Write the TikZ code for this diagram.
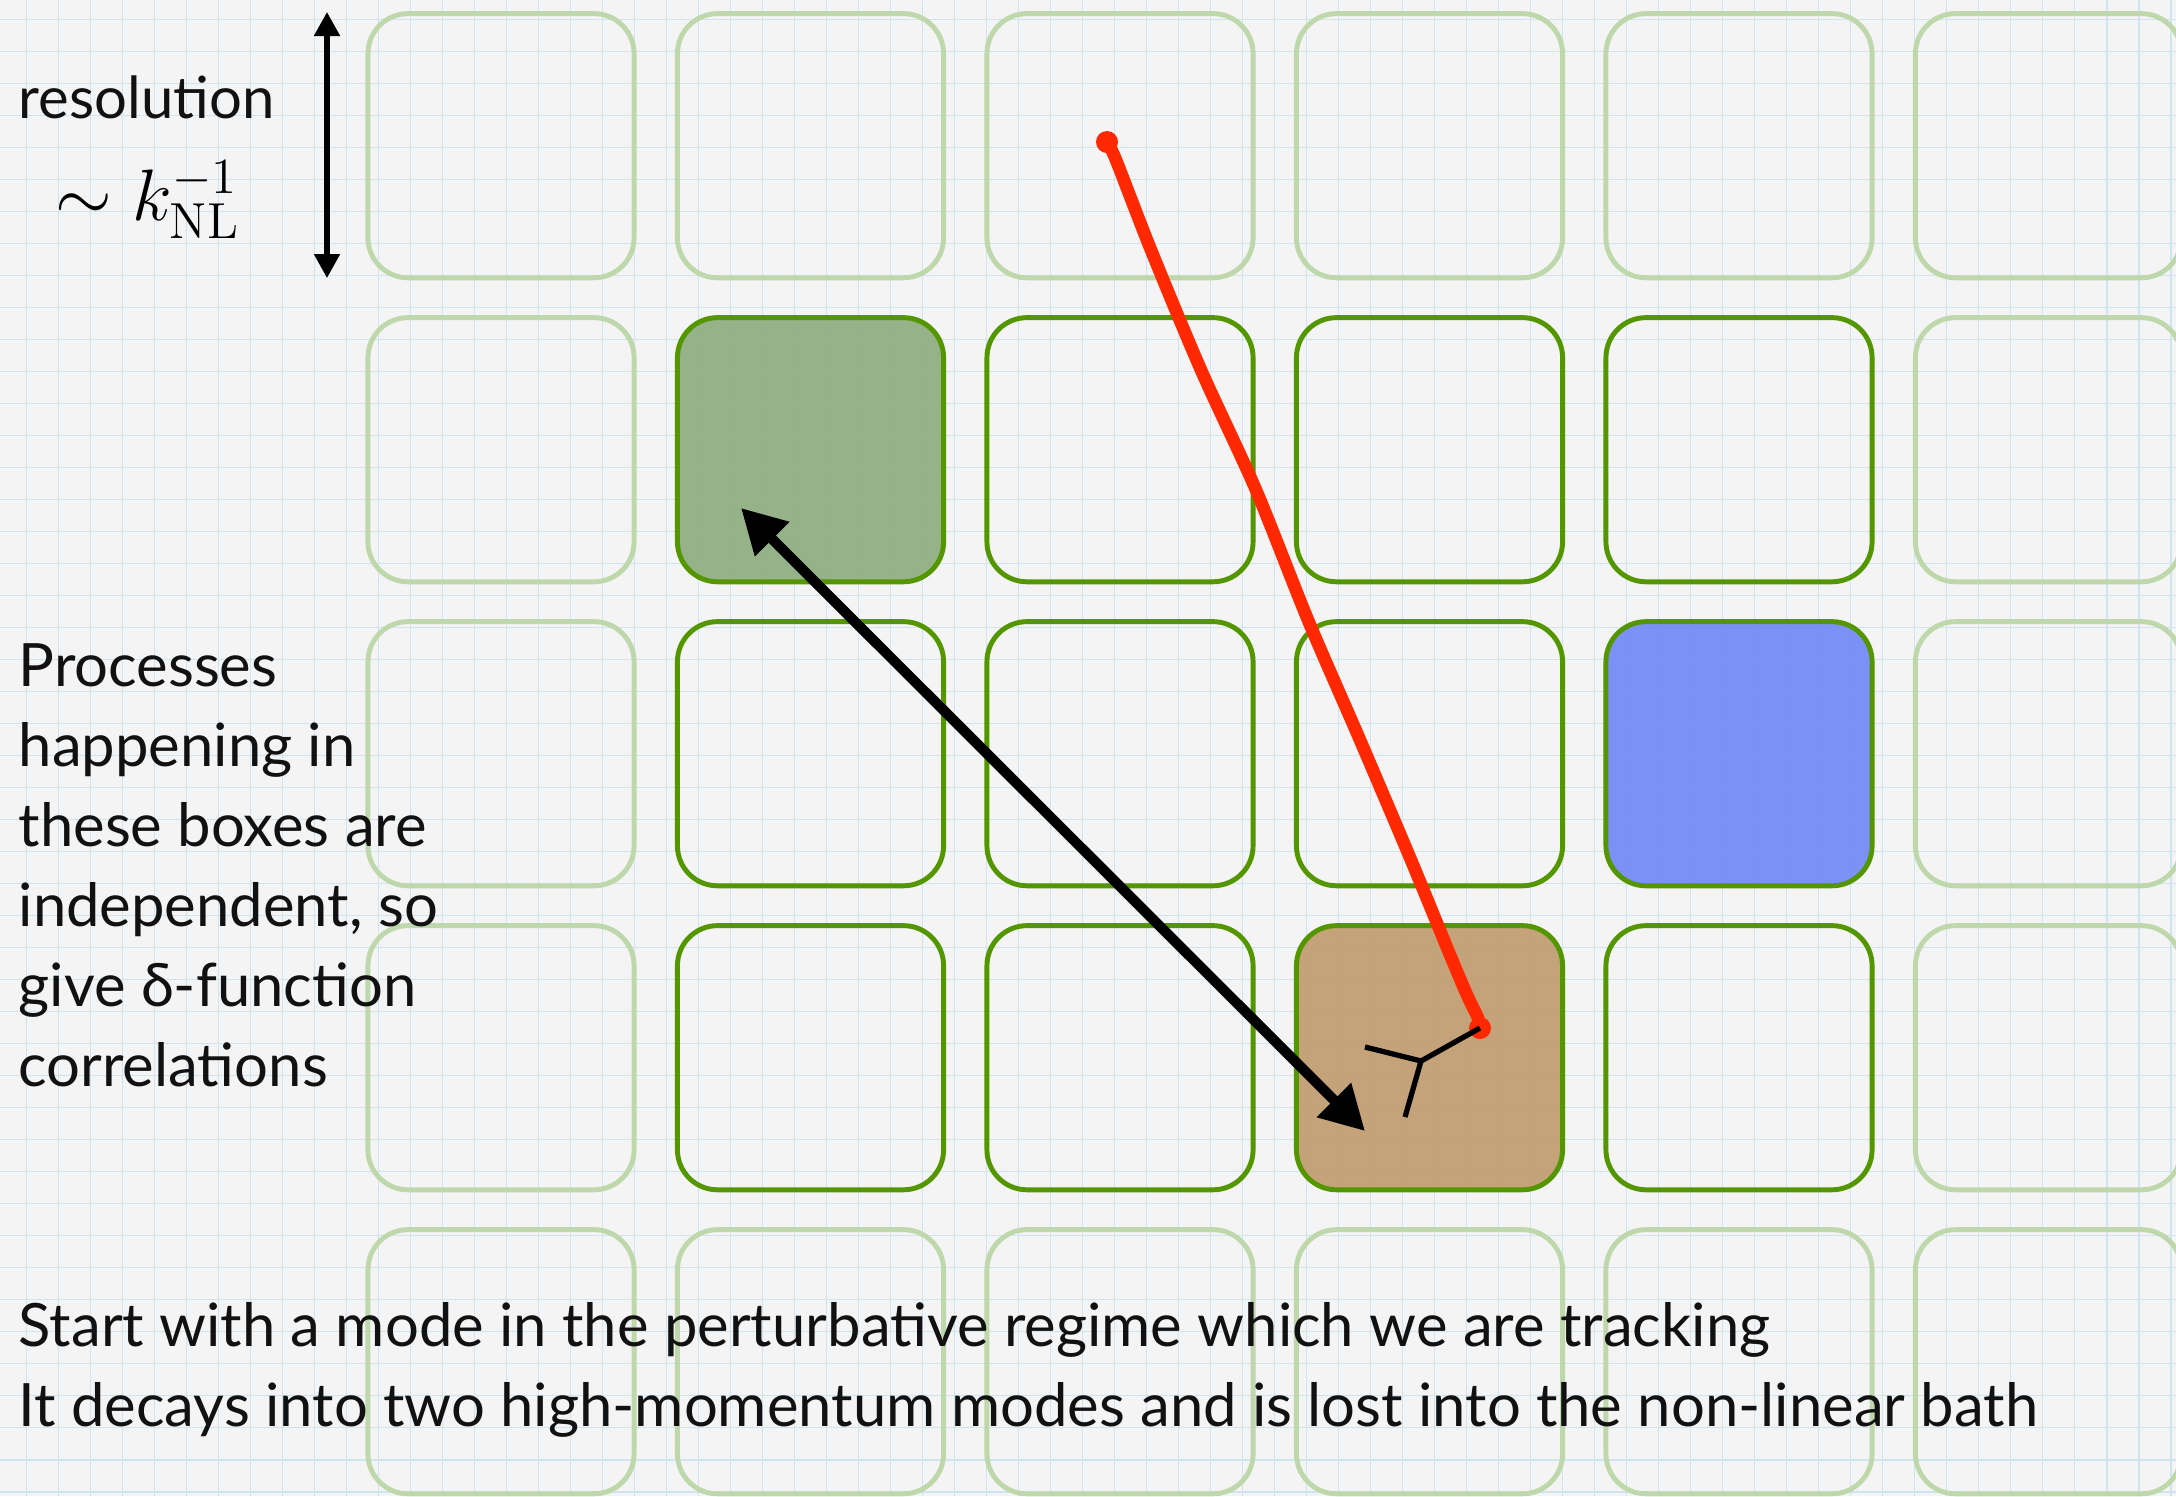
\documentclass[tikz,border=0pt]{standalone}
\usepackage[no-math]{fontspec}
\setmainfont{Lato}
\usetikzlibrary{arrows.meta}

\definecolor{bgc}{RGB}{244,244,244}
\definecolor{gridc}{RGB}{206,228,238}
\definecolor{faintg}{RGB}{190,216,172}
\definecolor{darkg}{RGB}{84,150,0}
\definecolor{fillg}{RGB}{146,175,132}
\definecolor{fillb}{RGB}{118,140,246}
\definecolor{fillbr}{RGB}{194,158,116}
\definecolor{redl}{RGB}{255,40,0}
\definecolor{ink}{RGB}{17,17,17}

\begin{document}
\begin{tikzpicture}[x=0.01cm,y=-0.01cm,
  cell/.style={draw, rectangle, rounded corners=0.4cm, minimum width=2.66cm,
    minimum height=2.64cm, inner sep=0pt, line width=1.4pt},
  cellfaint/.style={cell, draw=faintg},
  cellbold/.style={cell, draw=darkg, fill opacity=0.95},
  txt/.style={anchor=base west, inner sep=0pt, text=ink,
    font=\fontsize{17}{20}\selectfont},
  gridline/.style={draw=gridc, line width=0.55pt},
  redstroke/.style={draw=redl, line width=3.6pt, line cap=round, line join=round},
  blackarrow/.style={draw=black, line width=2.9pt,
    {Triangle[width=0.46cm,length=0.44cm]}-{Triangle[width=0.46cm,length=0.44cm]}},
  resarrow/.style={draw=black, line width=1.45pt,
    {Triangle[width=0.25cm,length=0.24cm]}-{Triangle[width=0.25cm,length=0.24cm]}},
  vertex/.style={draw=black, line width=1.5pt},
]
\useasboundingbox (0,0) rectangle (2176,1496);
\clip (0,0) rectangle (2176,1496);
\fill[bgc] (0,0) rectangle (2176,1496);
\foreach \i in {0,...,67} \draw[gridline] ({26.5+32*\i},0) -- ({26.5+32*\i},1496);
\foreach \j in {0,...,46} \draw[gridline] (0,{19.5+32*\j}) -- (2176,{19.5+32*\j});

% faint outer cells
\foreach \r in {0,4}{\foreach \c in {0,...,5}{
  \node[cellfaint] (b\r\c) at ({501+309.5*\c},{145.7+304*\r}) {};
}}
\foreach \r in {1,2,3}{\foreach \c in {0,5}{
  \node[cellfaint] (b\r\c) at ({501+309.5*\c},{145.7+304*\r}) {};
}}
% inner cells
\foreach \r/\c/\f in {1/1/fillg,1/2/none,1/3/none,1/4/none,
                      2/1/none,2/2/none,2/3/none,2/4/fillb,
                      3/1/none,3/2/none,3/3/fillbr,3/4/none}{
  \node[cellbold, fill=\f] (b\r\c) at ({501+309.5*\c},{145.7+304*\r}) {};
}

% resolution arrow
\coordinate (rt) at (327,12);
\coordinate (rb) at (327,278);
\draw[resarrow] (rt) -- (rb);
\node[anchor=base west, inner sep=0pt, text=ink, font=\fontsize{16.5}{20}\selectfont] (res) at (18,118) {resolution};
\node[anchor=base west, inner sep=0pt, font=\fontsize{20}{24}\selectfont] (knl) at (55,220) {$\sim k_{\mathrm{NL}}^{-1}$};

% red trajectory
\coordinate (rs) at (1107,142);
\coordinate (re) at (1480,1028);
\draw[redstroke] plot[smooth, tension=0.5] coordinates {(rs) (1116,160) (1151,250) (1201,370) (1256,490) (1308,620) (1360,740) (1411,860) (1448,950) (1467,995) (1478,1018) (re)};
\fill[redl] (rs) circle (0.11cm);
\fill[redl] (re) circle (0.11cm);

% decay vertex
\coordinate (vc) at (1421,1061);
\coordinate (va) at (1365,1047);
\coordinate (vb) at (1405,1117);
\draw[vertex] (va) -- (vc) -- (vb);
\draw[vertex] (vc) -- (re);

% correlation arrow
\coordinate (ca) at (741,508);
\coordinate (cb) at (1365,1131);
\draw[blackarrow] (ca) -- (cb);

% texts
\node[txt] (p1) at (18,686) {Processes};
\node[txt] (p2) at (18,766) {happening in};
\node[txt] (p3) at (18,846) {these boxes are};
\node[txt] (p4) at (18,926) {independent, so};
\node[txt] (p5) at (18,1006) {give δ-function};
\node[txt] (p6) at (18,1086) {correlations};
\node[txt] (s1) at (18,1346) {Start with a mode in the perturbative regime which we are tracking};
\node[txt] (s2) at (18,1426) {It decays into two high-momentum modes and is lost into the non-linear bath};
\end{tikzpicture}
\end{document}
